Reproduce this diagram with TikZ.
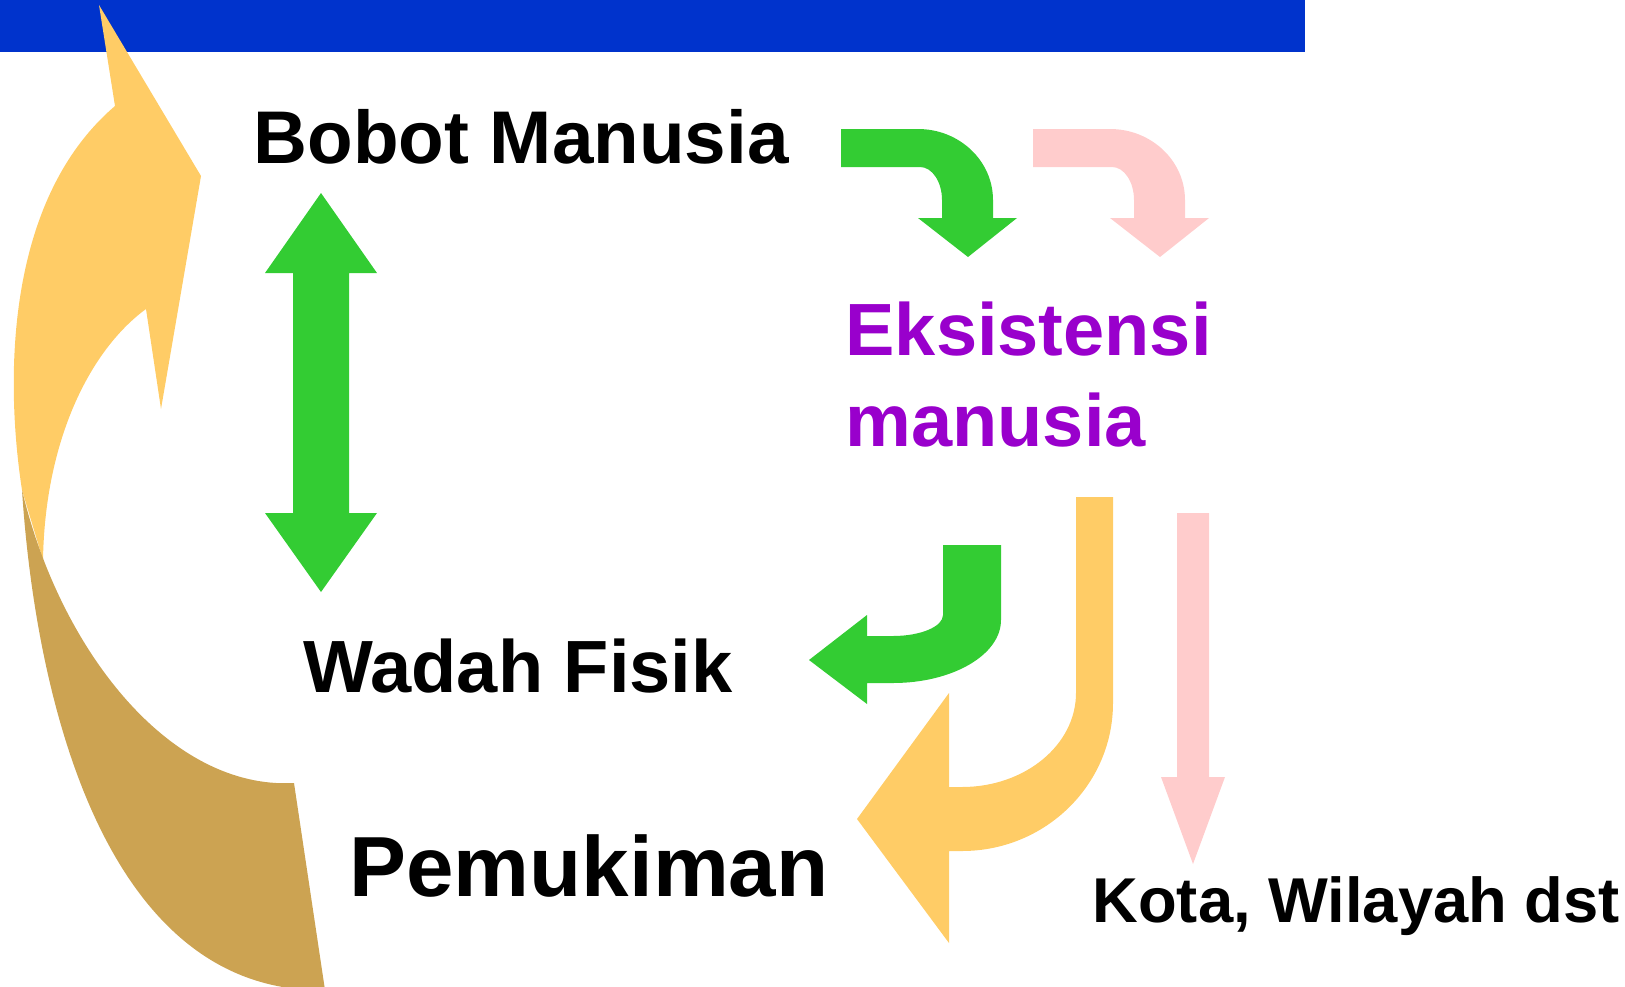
\documentclass[tikz,border=0pt]{standalone}
\usepackage{fontspec}
\setmainfont{Liberation Sans}

\definecolor{barblue}{RGB}{0,51,204}
\definecolor{arrgreen}{RGB}{51,204,51}
\definecolor{arrpink}{RGB}{255,204,204}
\definecolor{arryellow}{RGB}{255,204,102}
\definecolor{arrtan}{RGB}{204,163,82}
\definecolor{txtpurple}{RGB}{153,0,204}

\tikzset{every picture/.style={line width=0.75pt}}
\tikzset{lbl/.style={inner sep=0pt, anchor=base west, font=\bfseries}}

\begin{document}
\begin{tikzpicture}[x=0.75pt,y=0.75pt,yscale=-1,xscale=1]
\useasboundingbox (0,0) rectangle (1625,986);

%Shape: Rectangle [id:bar01] 
\fill [barblue] (0,0) rectangle (1305,52) ;

%Shape: Curved Up Arrow, front [id:cur01] 
\fill [arryellow] (99,5) -- (201,176) -- (161,409) -- (146,309) .. controls (90,350) and (45,440) .. (43,560) -- (22,490) .. controls (5,380) and (5,200) .. (115,106) -- cycle ;
%Shape: Curved Up Arrow, back [id:cur02] 
\fill [arrtan] (22,490) .. controls (35,690) and (100,980) .. (310,990) -- (325,990) -- (294,783) .. controls (170,790) and (60,650) .. (22,490) -- cycle ;

%Shape: Up-Down Arrow [id:ud01] 
\fill [arrgreen] (321,193) -- (377,273) -- (349,273) -- (349,513) -- (377,513) -- (321,592) -- (265,513) -- (293,513) -- (293,273) -- (265,273) -- cycle ;

%Shape: Bent Arrow [id:bent01] 
\fill [arrgreen] (841,129) -- (918,129) .. controls (959.4,129) and (993,160.8) .. (993,200) -- (993,218) -- (1017,218) -- (968,257) -- (918,218) -- (942,218) -- (942,200) .. controls (942,181.8) and (932.2,167) .. (920,167) -- (841,167) -- cycle ;
%Shape: Bent Arrow [id:bent02] 
\fill [arrpink] (1033,129) -- (1110,129) .. controls (1151.4,129) and (1185,160.8) .. (1185,200) -- (1185,218) -- (1209,218) -- (1160,257) -- (1110,218) -- (1134,218) -- (1134,200) .. controls (1134,181.8) and (1124.2,167) .. (1112,167) -- (1033,167) -- cycle ;

%Shape: Bent Arrow [id:bent03] 
\fill [arrgreen] (1001,545) -- (1001,620) .. controls (1001,654.8) and (952.6,683) .. (893,683) -- (867,683) -- (867,704) -- (809,660) -- (867,615) -- (867,636) -- (893,636) .. controls (920.6,636) and (943,626.6) .. (943,615) -- (943,545) -- cycle ;
%Shape: Bent Arrow [id:bent04] 
\fill [arryellow] (1113,497) -- (1113,703) .. controls (1113,784.7) and (1045.4,851) .. (962,851) -- (949,851) -- (949,943) -- (857,819) -- (949,693) -- (949,787) -- (962,787) .. controls (1025,787) and (1076,744.9) .. (1076,693) -- (1076,497) -- cycle ;

%Shape: Down Arrow [id:dn01] 
\fill [arrpink] (1177,513) -- (1209,513) -- (1209,777) -- (1225,777) -- (1193,864) -- (1161,777) -- (1177,777) -- cycle ;

% Text Node
\node [lbl, font=\fontsize{56}{66}\bfseries\selectfont] (bobot) at (253,163) {Bobot Manusia};
% Text Node
\node [lbl, align=left, text=txtpurple, font=\fontsize{55.5}{68.25}\bfseries\selectfont] (eksis) at (845,446) {Eksistensi\\manusia};
% Text Node
\node [lbl, font=\fontsize{55.5}{66}\bfseries\selectfont] (wadah) at (303,692) {Wadah Fisik};
% Text Node
\node [lbl, font=\fontsize{64}{76}\bfseries\selectfont] (pemuk) at (349,896) {Pemukiman};
% Text Node
\node [lbl, font=\fontsize{47.5}{56}\bfseries\selectfont] (kota) at (1092,922) {Kota, Wilayah dst};

\end{tikzpicture}
\end{document}
